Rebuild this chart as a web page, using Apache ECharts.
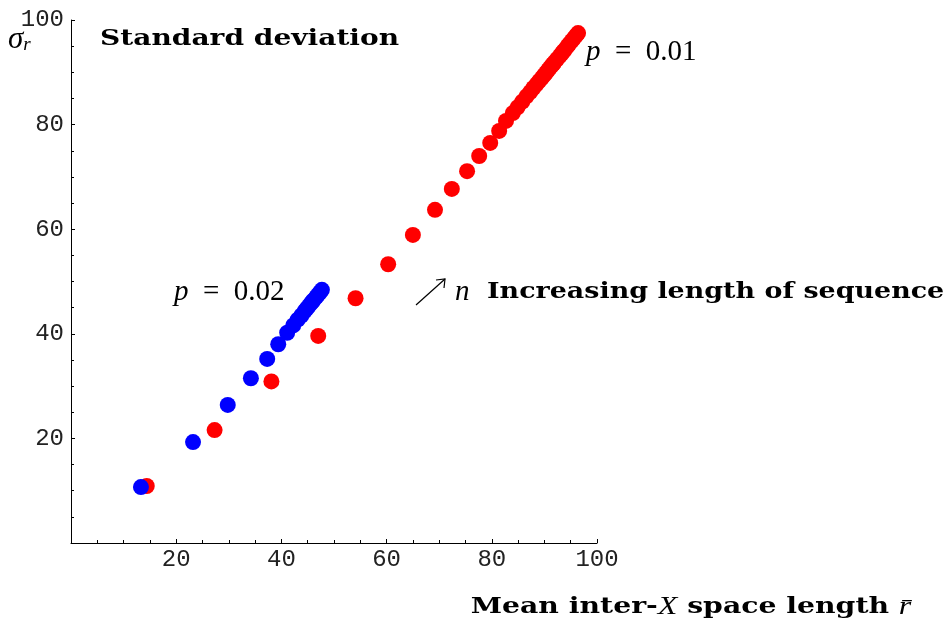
<!DOCTYPE html>
<html><head><meta charset="utf-8">
<script src="https://cdn.jsdelivr.net/npm/echarts@6/dist/echarts.min.js"></script>
<style>html,body{margin:0;padding:0;background:#fff}#c{width:950px;height:625px}</style>
</head><body><div id="c"></div>
<script>
// p = 0.01 (red)
const redX = [14.4, 27.3, 38.1, 47.0, 54.1, 60.3, 65.0, 69.2, 72.4, 75.3, 77.6, 79.7, 81.4, 82.7, 84.0,
  84.9, 85.8, 86.6, 87.3, 87.9, 88.5, 89.0, 89.5, 89.9, 90.3, 90.7, 91.0, 91.4, 91.7, 91.9,
  92.4, 92.9, 93.3, 93.6, 93.95, 94.4, 94.7, 95.2, 95.6, 96.0, 96.4];
const redY = [10.9, 21.6, 30.9, 39.6, 46.8, 53.3, 58.9, 63.7, 67.7, 71.1, 74.0, 76.5, 78.8, 80.7, 82.2,
  83.3, 84.4, 85.4, 86.2, 87.0, 87.7, 88.3, 88.9, 89.4, 89.9, 90.4, 90.8, 91.3, 91.6, 91.9,
  92.5, 93.1, 93.6, 94.0, 94.4, 95.0, 95.4, 96.0, 96.5, 97.0, 97.5];
// p = 0.02 (blue)
const blueX = [13.3, 23.2, 29.8, 34.2, 37.3, 39.4, 41.1, 42.25, 43.1, 43.8, 44.4, 44.8, 45.2, 45.6, 45.9, 46.1, 46.6, 46.9, 47.3, 47.7];
const blueY = [10.7, 19.3, 26.4, 31.5, 35.2, 38.0, 40.2, 41.6, 42.7, 43.5, 44.3, 44.8, 45.3, 45.8, 46.2, 46.4, 47.0, 47.4, 47.9, 48.4];

const xTicks = [20, 40, 60, 80, 100];
const yTicks = [20, 40, 60, 80, 100];

const zip = (a, b) => a.map((v, i) => [v, b[i]]);
const tickFont = {fontFamily: 'Liberation Mono', fontSize: 24, color: '#222'};

const chart = echarts.init(document.getElementById('c'), null, {renderer: 'canvas'});
chart.setOption({
  animation: false,
  backgroundColor: '#fff',
  grid: {left: 71, right: 353, top: 20, bottom: 82, containLabel: false},
  xAxis: {
    type: 'value', min: 0, max: 100, interval: 20,
    axisLine: {show: true, onZero: false, lineStyle: {color: '#000', width: 1}},
    axisTick: {show: true, inside: true, length: 4, lineStyle: {color: '#000'}},
    minorTick: {show: true, splitNumber: 4, length: 3, lineStyle: {color: '#000'}},
    splitLine: {show: false},
    axisLabel: Object.assign({margin: 5, formatter: v => xTicks.includes(v) ? String(v) : ''}, tickFont)
  },
  yAxis: {
    type: 'value', min: 0, max: 100, interval: 20,
    axisLine: {show: true, onZero: false, lineStyle: {color: '#000', width: 1}},
    axisTick: {show: true, inside: true, length: 4, lineStyle: {color: '#000'}},
    minorTick: {show: true, splitNumber: 4, length: 3, lineStyle: {color: '#000'}},
    splitLine: {show: false},
    axisLabel: Object.assign({margin: 7, formatter: v => yTicks.includes(v) ? String(v) : ''}, tickFont)
  },
  series: [
    {type: 'scatter', name: 'p = 0.01', data: zip(redX, redY), symbol: 'circle', symbolSize: 16,
     itemStyle: {color: '#ff0000', opacity: 1}, z: 2},
    {type: 'scatter', name: 'p = 0.02', data: zip(blueX, blueY), symbol: 'circle', symbolSize: 16,
     itemStyle: {color: '#0000ff', opacity: 1}, z: 3}
  ],
  graphic: [
    {type: 'text', x: 100, y: 39, scaleX: 1.22, style: {text: 'Standard deviation', font: 'bold 23px "DejaVu Serif"', fill: '#000', align: 'left', verticalAlign: 'middle'}},
    {type: 'text', x: 8, y: 40, style: {text: '{s|σ}{r|r}', fill: '#000', align: 'left', verticalAlign: 'middle',
      rich: {s: {font: 'italic 31px "Liberation Serif"', fill: '#000'}, r: {font: 'italic 19px "Liberation Serif"', fill: '#000', padding: [10, 0, 0, 0]}}}},
    {type: 'text', x: 586, y: 52, style: {text: '{p|p}{n|\u2002=\u20020.01}', align: 'left', verticalAlign: 'middle',
      rich: {p: {font: 'italic 29px "Liberation Serif"', fill: '#000'}, n: {font: '29px "Liberation Serif"', fill: '#000'}}}},
    {type: 'text', x: 174, y: 292, style: {text: '{p|p}{n|\u2002=\u20020.02}', align: 'left', verticalAlign: 'middle',
      rich: {p: {font: 'italic 29px "Liberation Serif"', fill: '#000'}, n: {font: '29px "Liberation Serif"', fill: '#000'}}}},
    {type: 'polyline', shape: {points: [[416, 305], [445, 279]]}, style: {stroke: '#000', lineWidth: 1.2, fill: null}},
    {type: 'polyline', shape: {points: [[436, 280], [445, 279], [444, 288]]}, style: {stroke: '#000', lineWidth: 1.2, fill: null}},
    {type: 'text', x: 455, y: 292, style: {text: 'n', font: 'italic 29px "Liberation Serif"', fill: '#000', align: 'left', verticalAlign: 'middle'}},
    {type: 'text', x: 487, y: 292, scaleX: 1.17, style: {text: 'Increasing length of sequence', font: 'bold 23px "DejaVu Serif"', fill: '#000', align: 'left', verticalAlign: 'middle'}},
    {type: 'text', x: 691, y: 607, scaleX: 1.23, style: {text: '{b|Mean inter-}{i|X}{b| space length }{i|r\u0304}', align: 'center', verticalAlign: 'middle',
      rich: {b: {font: 'bold 23px "DejaVu Serif"', fill: '#000'}, i: {font: 'italic 26px "Liberation Serif"', fill: '#000'}}}}
  ]
});
</script>
</body></html>
